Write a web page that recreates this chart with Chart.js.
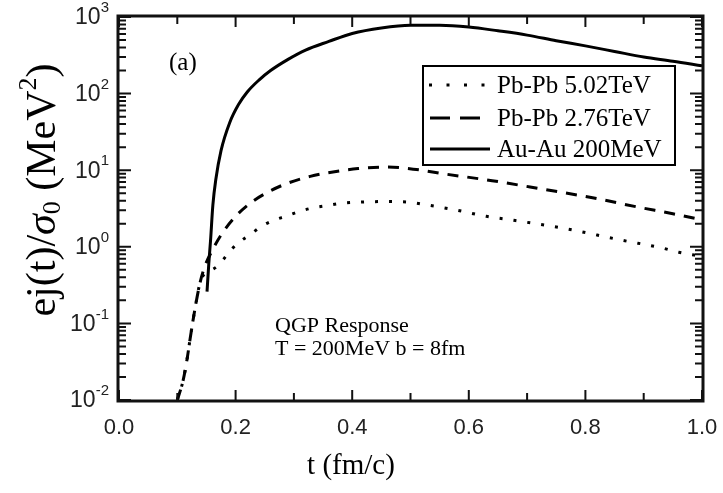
<!DOCTYPE html>
<html>
<head>
<meta charset="utf-8">
<script src="https://cdn.jsdelivr.net/npm/chart.js@4/dist/chart.umd.min.js"></script>
<style>
html, body { margin: 0; padding: 0; background: #fff; }
#wrap { width: 723px; height: 493px; }
</style>
</head>
<body>
<div id="wrap"><canvas id="chart" width="723" height="493"></canvas></div>
<script>
/*************** data ***************/
// Au-Au 200MeV (solid)
const tAuAu = [0.151, 0.154, 0.157, 0.161, 0.166, 0.175, 0.19, 0.205, 0.22, 0.24, 0.26, 0.29, 0.32, 0.36, 0.40, 0.45, 0.50, 0.55, 0.60, 0.65, 0.70, 0.75, 0.80, 0.85, 0.90, 0.95, 1.0];
const eAuAu = [0.26, 0.6, 1.2, 3.5, 7.5, 18, 42, 72, 105, 150, 200, 280, 370, 480, 610, 720, 780, 780, 740, 660, 580, 490, 420, 355, 300, 265, 230];

// Pb-Pb 2.76TeV (dashed)
const tPb276 = [0.100, 0.110, 0.117, 0.122, 0.130, 0.139, 0.147, 0.160, 0.177, 0.199, 0.225, 0.256, 0.29, 0.328, 0.367, 0.41, 0.46, 0.51, 0.56, 0.64, 0.73, 0.81, 0.89, 0.95, 1.0];
const ePb276 = [0.010, 0.018, 0.035, 0.063, 0.15, 0.34, 0.55, 0.9, 1.5, 2.45, 3.7, 5.2, 6.8, 8.3, 9.5, 10.5, 11, 10.2, 8.9, 7.3, 5.6, 4.4, 3.3, 2.7, 2.25];

// Pb-Pb 5.02TeV (dotted)
const tPb502 = [0.100, 0.110, 0.117, 0.122, 0.130, 0.139, 0.147, 0.155, 0.17, 0.185, 0.20, 0.228, 0.245, 0.264, 0.286, 0.307, 0.331, 0.357, 0.382, 0.42, 0.46, 0.50, 0.53, 0.58, 0.63, 0.68, 0.76, 0.86, 0.93, 0.96, 1.0];
const ePb502 = [0.010, 0.018, 0.035, 0.063, 0.15, 0.34, 0.45, 0.48, 0.57, 0.78, 1.05, 1.5, 1.87, 2.2, 2.5, 2.85, 3.2, 3.45, 3.7, 3.85, 3.9, 3.8, 3.5, 3.0, 2.5, 2.2, 1.76, 1.23, 0.97, 0.85, 0.75];

// axes
const xTicks = [0.0, 0.2, 0.4, 0.6, 0.8, 1.0];
const yTicks = [0.01, 0.1, 1, 10, 100, 1000];
const yExponents = ['-2', '-1', '0', '1', '2', '3'];

const labels = ['Pb-Pb 5.02TeV', 'Pb-Pb 2.76TeV', 'Au-Au 200MeV'];

function pairs(xs, ys) {
    return xs.map((x, i) => ({ x: x, y: ys[i] }));
}

/*************** texts, legend, frame ***************/
const decorations = {
    id: 'decorations',
    afterDraw(chart) {
        const ctx = chart.ctx;
        const xs = chart.scales.x;
        const ys = chart.scales.y;
        const a = chart.chartArea;
        ctx.save();
        ctx.fillStyle = '#222';

        // x tick labels
        ctx.font = '22px "Liberation Sans", Arial, sans-serif';
        ctx.textAlign = 'center';
        ctx.textBaseline = 'middle';
        xTicks.forEach(v => {
            ctx.fillText(v.toFixed(1), xs.getPixelForValue(v), 428);
        });

        // y tick labels: 10 with exponent
        yTicks.forEach((v, i) => {
            const py = ys.getPixelForValue(v);
            ctx.font = '15px "Liberation Sans", Arial, sans-serif';
            const ew = ctx.measureText(yExponents[i]).width;
            const right = 109;
            ctx.textAlign = 'right';
            ctx.fillText(yExponents[i], right, py - 9);
            ctx.font = '23px "Liberation Sans", Arial, sans-serif';
            ctx.fillText('10', right - ew, py + 1);
        });

        // x title
        ctx.fillStyle = '#000';
        ctx.font = '29px "Liberation Serif", "Times New Roman", serif';
        ctx.textAlign = 'center';
        ctx.fillText('t (fm/c)', 351, 466);

        // y title, rotated, built piece by piece
        const pieces = [
            { t: 'ej(t)/', f: '42px "Liberation Serif", serif', dy: 0 },
            { t: '\u03c3', f: 'italic 42px "Liberation Serif", serif', dy: 0 },
            { t: '0', f: '26px "Liberation Serif", serif', dy: 9 },
            { t: ' (MeV', f: '42px "Liberation Serif", serif', dy: 0 },
            { t: '2', f: '26px "Liberation Serif", serif', dy: -15 },
            { t: ')', f: '42px "Liberation Serif", serif', dy: 0 }
        ];
        let total = 0;
        pieces.forEach(p => { ctx.font = p.f; p.w = ctx.measureText(p.t).width; total += p.w; });
        ctx.save();
        ctx.translate(44, 190);
        ctx.rotate(-Math.PI / 2);
        ctx.textAlign = 'left';
        let cx = -total / 2;
        pieces.forEach(p => {
            ctx.font = p.f;
            ctx.fillText(p.t, cx, p.dy);
            cx += p.w;
        });
        ctx.restore();

        // panel label and annotation
        ctx.textAlign = 'left';
        ctx.font = '25px "Liberation Serif", serif';
        ctx.fillText('(a)', 169, 63);
        ctx.font = '22px "Liberation Serif", serif';
        ctx.fillText('QGP Response', 275, 326);
        ctx.fillText('T = 200MeV b = 8fm', 275, 349);

        // legend box
        ctx.strokeStyle = '#000';
        ctx.lineWidth = 2;
        ctx.strokeRect(423, 66, 252, 99);
        const rows = [85, 118, 149];
        const ds = chart.data.datasets;
        [0, 1, 2].forEach(i => {
            const d = ds[i];
            ctx.strokeStyle = d.borderColor;
            ctx.lineWidth = d.borderWidth;
            ctx.lineCap = 'butt';
            ctx.setLineDash(i === 0 ? [3, 14.5] : (i === 1 ? [20, 10] : []));
            ctx.beginPath();
            ctx.moveTo(i === 0 ? 429 : 430, rows[i]);
            ctx.lineTo(490, rows[i]);
            ctx.stroke();
            ctx.setLineDash([]);
            ctx.fillStyle = '#000';
            ctx.font = '25px "Liberation Serif", serif';
            ctx.fillText(d.label, 497, rows[i] + 1);
        });

        // frame, just outside the chart area, and inward ticks
        ctx.strokeStyle = '#111';
        ctx.lineWidth = 3;
        ctx.strokeRect(a.left - 1, a.top - 1, a.right - a.left + 2, a.bottom - a.top + 2);
        ctx.lineWidth = 2;
        for (let i = 0; i <= 10; i++) {
            const px = xs.getPixelForValue(i / 10);
            const len = i % 2 === 0 ? 10 : 7;
            ctx.beginPath();
            ctx.moveTo(px, a.bottom + 1);
            ctx.lineTo(px, a.bottom - len);
            ctx.moveTo(px, a.top - 1);
            ctx.lineTo(px, a.top + len);
            ctx.stroke();
        }
        for (let p = -2; p <= 3; p++) {
            for (let m = 1; m <= 9; m++) {
                const v = m * Math.pow(10, p);
                if (v > 1000) break;
                const py = ys.getPixelForValue(v);
                const len = m === 1 ? 12 : 7;
                ctx.beginPath();
                ctx.moveTo(a.left - 1, py);
                ctx.lineTo(a.left + len, py);
                ctx.moveTo(a.right + 1, py);
                ctx.lineTo(a.right - len, py);
                ctx.stroke();
            }
        }
        ctx.restore();
    }
};

/*************** chart ***************/
const chart = new Chart(document.getElementById('chart'), {
    type: 'line',
    data: {
        datasets: [
            {
                label: labels[0],
                data: pairs(tPb502, ePb502),
                borderColor: '#000',
                borderWidth: 3,
                borderDash: [3, 11],
                borderCapStyle: 'butt',
                pointRadius: 0,
                cubicInterpolationMode: 'monotone',
                fill: false
            },
            {
                label: labels[1],
                data: pairs(tPb276, ePb276),
                borderColor: '#000',
                borderWidth: 3,
                borderDash: [11, 9],
                borderCapStyle: 'butt',
                pointRadius: 0,
                cubicInterpolationMode: 'monotone',
                fill: false
            },
            {
                label: labels[2],
                data: pairs(tAuAu, eAuAu),
                borderColor: '#000',
                borderWidth: 3,
                pointRadius: 0,
                cubicInterpolationMode: 'monotone',
                fill: false
            }
        ]
    },
    options: {
        responsive: false,
        animation: false,
        layout: { padding: { top: 17, right: 21, left: 0, bottom: 0 } },
        plugins: {
            legend: { display: false },
            tooltip: { enabled: false }
        },
        scales: {
            x: {
                type: 'linear',
                min: 0,
                max: 1,
                grid: { display: false },
                border: { display: false },
                ticks: { display: false },
                afterFit: s => { s.height = 93; }
            },
            y: {
                type: 'logarithmic',
                min: 0.01,
                max: 1000,
                grid: { display: false },
                border: { display: false },
                ticks: { display: false },
                afterFit: s => { s.width = 119; }
            }
        }
    },
    plugins: [decorations]
});
</script>
</body>
</html>
